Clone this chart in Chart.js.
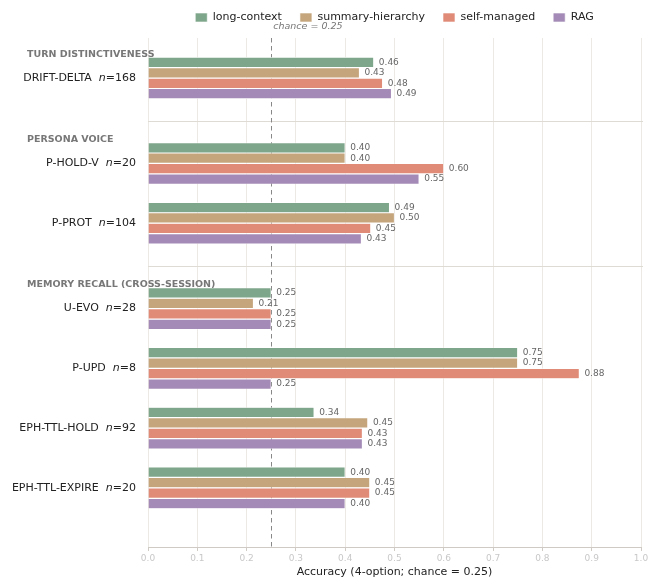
<!DOCTYPE html>
<html>
<head>
<meta charset="utf-8">
<script src="https://cdn.jsdelivr.net/npm/chart.js@4.4.1/dist/chart.umd.min.js"></script>
<style>
  html, body { margin: 0; padding: 0; background: #fff; }
</style>
</head>
<body>
<canvas id="accuracyChart" width="660" height="587"></canvas>
<script>
// benchmark rows, top to bottom
const categories = ['DRIFT-DELTA', 'P-HOLD-V', 'P-PROT', 'U-EVO', 'P-UPD', 'EPH-TTL-HOLD', 'EPH-TTL-EXPIRE'];
const sampleSizes = [168, 20, 104, 28, 8, 92, 20];
const sections = ['TURN DISTINCTIVENESS', 'PERSONA VOICE', 'MEMORY RECALL (CROSS-SESSION)'];
const sectionOf = [0, 1, 1, 2, 2, 2, 2];

const seriesNames = ['long-context', 'summary-hierarchy', 'self-managed', 'RAG'];
const longContext = [0.458, 0.40, 0.490, 0.25, 0.75, 0.337, 0.40];
const summaryHierarchy = [0.429, 0.40, 0.500, 0.214, 0.75, 0.446, 0.45];
const selfManaged = [0.476, 0.60, 0.452, 0.25, 0.875, 0.435, 0.45];
const rag = [0.494, 0.55, 0.433, 0.25, 0.25, 0.435, 0.40];

const xTicks = [0, 0.1, 0.2, 0.3, 0.4, 0.5, 0.6, 0.7, 0.8, 0.9, 1.0];
const chance = 0.25;

const colors = ['#7ea68a', '#c5a57c', '#e08b78', '#a48bb7'];
const SECTION_GAP = 0.43;
const rowPos = categories.map((_, i) => i + SECTION_GAP * sectionOf[i]);
const allSeries = [longContext, summaryHierarchy, selfManaged, rag];

const FONT = '"DejaVu Sans", sans-serif';
Chart.defaults.font.family = FONT;

const decorations = {
  id: 'decorations',
  beforeInit(chart) {
    // leave room under the legend for the chance note
    const fit = chart.legend.fit;
    chart.legend.fit = function () {
      fit.call(this);
      this.height += 5;
    };
  },
  beforeDatasetsDraw(chart) {
    const { ctx, chartArea } = chart;
    const x = chart.scales.x, y = chart.scales.y;
    ctx.save();
    // section separators
    ctx.strokeStyle = '#dedbd5';
    ctx.lineWidth = 1;
    for (let i = 1; i < categories.length; i++) {
      if (sectionOf[i] === sectionOf[i - 1]) continue;
      const yy = Math.round(y.getPixelForValue((rowPos[i - 1] + rowPos[i]) / 2)) + 0.5;
      ctx.beginPath();
      ctx.moveTo(chartArea.left, yy);
      ctx.lineTo(chartArea.right + 2, yy);
      ctx.stroke();
    }
    // chance line
    const cx = Math.round(x.getPixelForValue(chance)) + 0.5;
    ctx.strokeStyle = '#888';
    ctx.setLineDash([4.5, 3.5]);
    ctx.beginPath();
    ctx.moveTo(cx, chartArea.top);
    ctx.lineTo(cx, chartArea.bottom);
    ctx.stroke();
    ctx.restore();
  },
  afterDatasetsDraw(chart) {
    const { ctx, chartArea } = chart;
    const x = chart.scales.x, y = chart.scales.y;
    ctx.save();
    ctx.textBaseline = 'middle';

    // value labels
    ctx.font = '9px ' + FONT;
    ctx.fillStyle = '#666';
    ctx.textAlign = 'left';
    allSeries.forEach((vals, d) => {
      chart.getDatasetMeta(d).data.forEach((bar, i) => {
        ctx.fillText(vals[i].toFixed(2), bar.x + 5, bar.y);
      });
    });

    // chance note
    ctx.font = 'italic 9.5px ' + FONT;
    ctx.fillStyle = '#777';
    ctx.fillText('chance = ' + chance.toFixed(2), x.getPixelForValue(chance) + 2, 27);

    // section headers
    ctx.font = 'bold 9.5px ' + FONT;
    ctx.fillStyle = '#777';
    sections.forEach((name, s) => {
      const first = sectionOf.indexOf(s);
      ctx.fillText(name, 27, y.getPixelForValue(rowPos[first] - 0.4));
    });

    // row labels with italic n
    ctx.textAlign = 'right';
    ctx.fillStyle = '#222';
    const normal = '11px ' + FONT, italic = 'italic 11px ' + FONT;
    categories.forEach((name, i) => {
      const yy = y.getPixelForValue(rowPos[i]);
      let xx = chartArea.left - 12;
      const tail = '=' + sampleSizes[i];
      ctx.font = normal;
      ctx.fillText(tail, xx, yy);
      xx -= ctx.measureText(tail).width;
      ctx.font = italic;
      ctx.fillText('n', xx, yy);
      xx -= ctx.measureText('n').width;
      ctx.font = normal;
      ctx.fillText(name + '  ', xx, yy);
    });
    ctx.restore();
  }
};

new Chart(document.getElementById('accuracyChart').getContext('2d'), {
  type: 'bar',
  data: {
    datasets: seriesNames.map((name, d) => ({
      label: name,
      data: allSeries[d].map((v, i) => ({ x: v, y: rowPos[i] })),
      backgroundColor: colors[d],
      borderColor: '#fff',
      borderWidth: 0.6,
      categoryPercentage: 0.7,
      barPercentage: 1.0
    }))
  },
  options: {
    indexAxis: 'y',
    responsive: false,
    animation: false,
    layout: { padding: { left: 148, right: 19, top: -6, bottom: 8 } },
    scales: {
      x: {
        type: 'linear',
        min: 0,
        max: 1,
        afterBuildTicks: s => { s.ticks = xTicks.map(v => ({ value: v })); },
        grid: { color: '#ece9e4', lineWidth: 1, tickLength: 4, tickColor: '#cfcac3' },
        border: { color: '#cfcac3', width: 1 },
        ticks: {
          color: '#c8c8c8',
          font: { size: 9 },
          padding: 2,
          callback: v => Number(v).toFixed(1)
        },
        title: {
          display: true,
          text: 'Accuracy (4-option; chance = 0.25)',
          color: '#222',
          font: { size: 11 },
          padding: { top: 0, bottom: 0 }
        }
      },
      y: {
        type: 'linear',
        reverse: true,
        offset: false,
        min: -0.67,
        max: rowPos[rowPos.length - 1] + 0.99,
        afterBuildTicks: s => { s.ticks = rowPos.map(v => ({ value: v })); },
        grid: { display: false },
        display: false
      }
    },
    plugins: {
      legend: {
        position: 'top',
        labels: {
          boxWidth: 12,
          boxHeight: 9,
          padding: 18,
          color: '#222',
          font: { size: 11 }
        }
      },
      tooltip: { enabled: false }
    }
  },
  plugins: [decorations]
});
</script>
</body>
</html>
